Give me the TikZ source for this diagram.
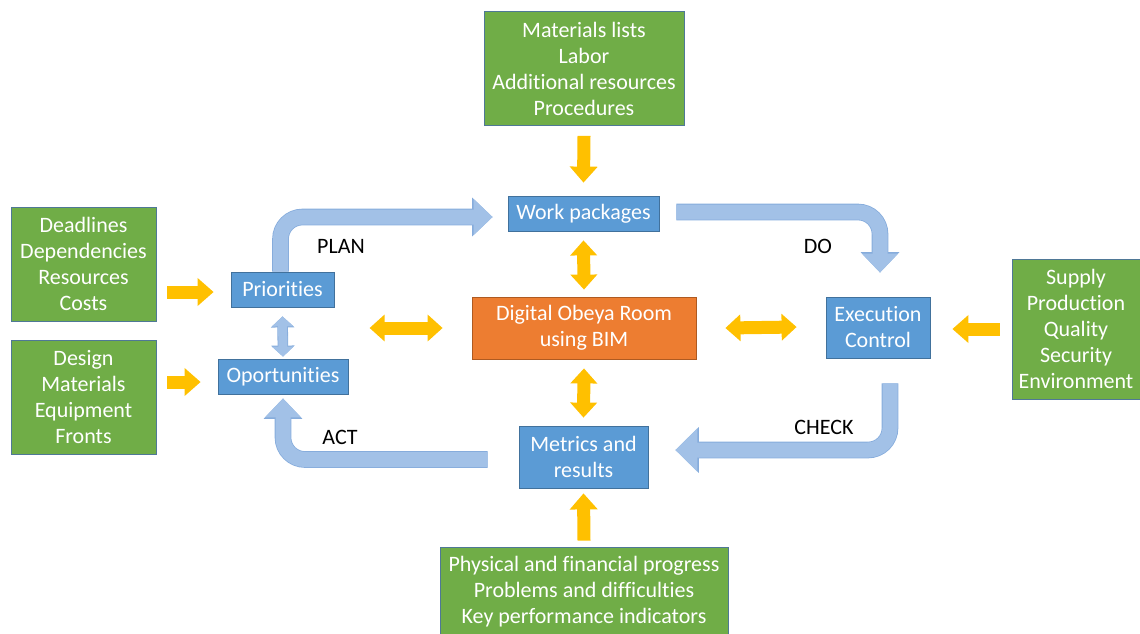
\documentclass[tikz,border=0pt]{standalone}
\usepackage{fontspec}
\setmainfont{Carlito}[Ligatures=NoCommon]
\usetikzlibrary{arrows.meta}
\definecolor{gfill}{HTML}{70AD47}
\definecolor{gline}{HTML}{4F7896}
\definecolor{bfill}{HTML}{5B9BD5}
\definecolor{bline}{HTML}{41719C}
\definecolor{ofill}{HTML}{ED7D31}
\definecolor{oline}{HTML}{AE5A21}
\definecolor{yel}{HTML}{FFC000}
\definecolor{lbfill}{HTML}{A2C1E7}
\definecolor{lbline}{HTML}{86ACDC}
\tikzset{
  txt/.style={font=\fontsize{22}{26}\selectfont, align=center, inner sep=0pt},
  gbox/.style={txt, fill=gfill, draw=gline, line width=0.8pt, text=white},
  bbox/.style={txt, fill=bfill, draw=bline, line width=0.8pt, text=white},
  obox/.style={txt, fill=ofill, draw=oline, line width=0.8pt, text=white},
  lbl/.style={txt, text=black},
  yarrow/.style={draw=yel, line width=13pt, -{Triangle[width=27pt,length=16pt]}},
  ydarrow/.style={draw=yel, line width=13pt, {Triangle[width=26pt,length=15pt]}-{Triangle[width=26pt,length=15pt]}},
  barrow/.style={draw=lbfill, line width=15pt, rounded corners=22pt,
    -{Triangle[width=35pt,length=19pt]},
    preaction={draw=lbline, line width=16.6pt, -{Triangle[width=37.5pt,length=20.5pt]}}},
  bbigarrow/.style={draw=lbfill, line width=15pt, rounded corners=22pt,
    -{Triangle[width=42pt,length=22pt]},
    preaction={draw=lbline, line width=16.6pt, -{Triangle[width=44.5pt,length=23.5pt]}}},
  bdarrow/.style={draw=lbfill, line width=9pt,
    {Triangle[width=21pt,length=10pt]}-{Triangle[width=21pt,length=10pt]},
    preaction={draw=lbline, line width=10.6pt, {Triangle[width=23pt,length=11pt]}-{Triangle[width=23pt,length=11pt]}}},
}
\begin{document}
\begin{tikzpicture}[x=1pt,y=-1pt]
\useasboundingbox (0,0) rectangle (1140,633);
% boxes
\node[gbox, minimum width=200pt, minimum height=114pt] (topg) at (584,68.5)
  {Materials lists\\Labor\\Additional resources\\Procedures};
\node[bbox, minimum width=151pt, minimum height=35pt] (wp) at (583.5,213.5) {Work packages};
\node[gbox, minimum width=145pt, minimum height=114pt] (lg1) at (83.5,264)
  {Deadlines\\Dependencies\\Resources\\Costs};
\node[gbox, minimum width=145pt, minimum height=114pt] (lg2) at (83.5,397)
  {Design\\Materials\\Equipment\\Fronts};
\node[bbox, minimum width=103pt, minimum height=35pt] (prio) at (282.5,289.5) {Priorities};
\node[bbox, minimum width=130pt, minimum height=35pt] (opor) at (283,376.5) {Oportunities};
\node[obox, minimum width=224pt, minimum height=62pt] (dor) at (584,328) {Digital Obeya Room\\using BIM};
\node[bbox, minimum width=104pt, minimum height=61pt] (exec) at (878,327.5) {Execution\\Control};
\node[gbox, minimum width=128pt, minimum height=140pt] (rg) at (1076,329)
  {Supply\\Production\\Quality\\Security\\Environment};
\node[bbox, minimum width=129pt, minimum height=62pt] (met) at (583.5,457) {Metrics and\\results};
\node[gbox, minimum width=288pt, minimum height=90pt] (bg) at (584,592)
  {Physical and financial progress\\Problems and difficulties\\Key performance indicators};
% labels
\node[lbl] (plan) at (341,246) {PLAN};
\node[lbl] (do) at (818,246) {DO};
\node[lbl] (act) at (340,437) {ACT};
\node[lbl] (check) at (824,427) {CHECK};
% yellow arrows
\draw[yarrow] ([yshift=-10pt]topg.south) -- ([yshift=13pt]wp.north);
\draw[yarrow] ([xshift=11pt,yshift=-2.5pt]lg1.east |- prio.west) -- ([xshift=-17pt,yshift=-2.5pt]prio.west);
\draw[yarrow] ([xshift=11pt,yshift=-5.5pt]lg2.east |- opor.west) -- ([xshift=-17pt,yshift=-5.5pt]opor.west);
\draw[ydarrow] ([xshift=-102pt]dor.west) -- ([xshift=-29pt]dor.west);
\draw[ydarrow] ([xshift=29pt]dor.east) -- ([xshift=-29pt,yshift=0.5pt]exec.west);
\draw[yarrow] ([xshift=-12pt]rg.west) -- ([xshift=22pt,yshift=-1.5pt]exec.east);
\draw[ydarrow] ([yshift=-9pt]wp.south) -- ([yshift=7pt]dor.north);
\draw[ydarrow] ([yshift=-9pt]dor.south) -- ([yshift=8pt]met.north);
\draw[yarrow] ([yshift=6pt]bg.north) -- ([yshift=-5pt]met.south);
% light blue arrows
\draw[bdarrow] ([yshift=-9pt]prio.south) -- ([yshift=2pt]opor.north);
\draw[barrow] ([xshift=-2pt]prio.north) |- ([xshift=-15pt,yshift=-3.5pt]wp.west);
\draw[barrow] ([xshift=17pt,yshift=1.5pt]wp.east) -| ([xshift=2pt,yshift=24pt]exec.north);
\draw[bbigarrow] ([xshift=12pt,yshift=-25pt]exec.south) |- ([xshift=27pt,yshift=7pt]met.east);
\draw[barrow] ([xshift=-31pt,yshift=-2.5pt]met.west) -| ([yshift=-4pt]opor.south);
\end{tikzpicture}
\end{document}
